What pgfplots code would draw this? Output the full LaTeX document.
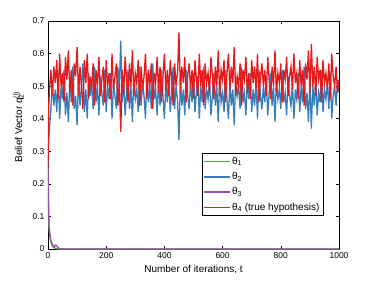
\documentclass[border=0pt]{standalone}
\usepackage{pgfplots}
\pgfplotsset{compat=1.18}
\usepackage{pgfplotstable}
\usepackage{fontspec}
\setmainfont{Liberation Sans}
\definecolor{lineR}{rgb}{0.894,0.102,0.110}
\definecolor{lineB}{rgb}{0.216,0.494,0.722}
\definecolor{lineG}{rgb}{0.302,0.686,0.290}
\definecolor{lineP}{rgb}{0.596,0.306,0.639}

\pgfplotstableread{
t r b
0 0.25 0.25
1 0.33 0.29
2 0.40 0.32
3 0.45 0.34
5 0.49 0.37
10 0.55 0.43
15 0.47 0.51
20 0.56 0.44
25 0.51 0.49
30 0.58 0.42
35 0.46 0.54
40 0.60 0.40
45 0.50 0.50
50 0.54 0.46
55 0.45 0.55
60 0.59 0.41
65 0.52 0.48
70 0.61 0.39
75 0.48 0.52
80 0.55 0.45
85 0.44 0.56
90 0.57 0.43
95 0.53 0.47
100 0.62 0.38
105 0.47 0.53
110 0.56 0.44
115 0.50 0.50
120 0.43 0.57
125 0.58 0.42
130 0.51 0.49
135 0.60 0.40
140 0.46 0.54
145 0.53 0.47
150 0.49 0.51
155 0.57 0.43
160 0.44 0.56
165 0.55 0.45
170 0.50 0.50
175 0.59 0.41
180 0.47 0.53
185 0.52 0.48
190 0.56 0.44
195 0.45 0.55
200 0.58 0.42
205 0.50 0.50
210 0.54 0.46
215 0.46 0.54
220 0.60 0.40
225 0.49 0.51
230 0.53 0.47
235 0.57 0.43
240 0.44 0.56
245 0.51 0.49
250 0.36 0.64
255 0.55 0.45
260 0.48 0.52
265 0.59 0.41
270 0.52 0.48
275 0.45 0.55
280 0.57 0.43
285 0.50 0.50
290 0.61 0.39
295 0.47 0.53
300 0.54 0.46
305 0.51 0.49
310 0.58 0.42
315 0.44 0.56
320 0.56 0.44
325 0.49 0.51
330 0.53 0.47
335 0.60 0.40
340 0.46 0.54
345 0.55 0.45
350 0.50 0.50
355 0.57 0.43
360 0.43 0.57
365 0.54 0.46
370 0.51 0.49
375 0.59 0.41
380 0.48 0.52
385 0.56 0.44
390 0.45 0.55
395 0.53 0.47
400 0.60 0.40
405 0.49 0.51
410 0.55 0.45
415 0.47 0.53
420 0.58 0.42
425 0.52 0.48
430 0.44 0.56
435 0.57 0.43
440 0.50 0.50
445 0.54 0.46
450 0.665 0.335
455 0.48 0.52
460 0.56 0.44
465 0.51 0.49
470 0.59 0.41
475 0.45 0.55
480 0.53 0.47
485 0.57 0.43
490 0.49 0.51
495 0.55 0.45
500 0.46 0.54
505 0.58 0.42
510 0.52 0.48
515 0.47 0.53
520 0.60 0.40
525 0.50 0.50
530 0.55 0.45
535 0.44 0.56
540 0.57 0.43
545 0.51 0.49
550 0.54 0.46
555 0.48 0.52
560 0.59 0.41
565 0.53 0.47
570 0.46 0.54
575 0.56 0.44
580 0.50 0.50
585 0.61 0.39
590 0.47 0.53
595 0.55 0.45
600 0.52 0.48
605 0.58 0.42
610 0.45 0.55
615 0.54 0.46
620 0.60 0.40
625 0.49 0.51
630 0.56 0.44
635 0.51 0.49
640 0.62 0.38
645 0.47 0.53
650 0.53 0.47
655 0.50 0.50
660 0.57 0.43
665 0.44 0.56
670 0.55 0.45
675 0.52 0.48
680 0.59 0.41
685 0.48 0.52
690 0.54 0.46
695 0.46 0.54
700 0.58 0.42
705 0.51 0.49
710 0.56 0.44
715 0.49 0.51
720 0.60 0.40
725 0.45 0.55
730 0.53 0.47
735 0.57 0.43
740 0.50 0.50
745 0.55 0.45
750 0.47 0.53
755 0.59 0.41
760 0.52 0.48
765 0.46 0.54
770 0.56 0.44
775 0.50 0.50
780 0.61 0.39
785 0.48 0.52
790 0.54 0.46
795 0.51 0.49
800 0.57 0.43
805 0.45 0.55
810 0.55 0.45
815 0.52 0.48
820 0.59 0.41
825 0.47 0.53
830 0.53 0.47
835 0.56 0.44
840 0.49 0.51
845 0.60 0.40
850 0.51 0.49
855 0.54 0.46
860 0.46 0.54
865 0.58 0.42
870 0.50 0.50
875 0.55 0.45
880 0.44 0.56
885 0.57 0.43
890 0.52 0.48
895 0.61 0.39
900 0.48 0.52
905 0.63 0.37
910 0.50 0.50
915 0.56 0.44
920 0.47 0.53
925 0.59 0.41
930 0.52 0.48
935 0.55 0.45
940 0.45 0.55
945 0.58 0.42
950 0.51 0.49
955 0.54 0.46
960 0.49 0.51
965 0.57 0.43
970 0.46 0.54
975 0.60 0.40
980 0.53 0.47
985 0.50 0.50
990 0.56 0.44
995 0.48 0.52
1000 0.52 0.48
}\beliefs

\pgfplotstableread{
t g
0 0.25
1 0.17
2 0.11
3 0.07
5 0.05
8 0.03
12 0.015
18 0.005
25 0.002
35 0
1000 0
}\thetaone

\pgfplotstableread{
t p
0 0.25
1 0.20
2 0.14
3 0.09
5 0.06
8 0.035
12 0.02
18 0.01
22 0.006
26 0.012
30 0.010
34 0.004
40 0.001
50 0
1000 0
}\thetathree

\begin{document}
\begin{tikzpicture}
\begin{axis}[
  scale only axis,
  width=291pt, height=228pt,
  at={(0,0)}, anchor=south west,
  xmin=0, xmax=1000, ymin=0, ymax=0.7,
  xtick={0,200,...,1000},
  xticklabels={0,200,400,600,800,1000},
  ytick={0,0.1,...,0.7},
  yticklabels={0,0.1,0.2,0.3,0.4,0.5,0.6,0.7},
  tick align=inside,
  major tick length=3pt,
  tick style={black, line width=0.6pt},
  axis line style={line width=0.8pt},
  tick label style={font=\fontsize{8.5}{10}\selectfont},
  xlabel={Number of iterations, t},
  ylabel={Belief Vector q\rlap{\textsuperscript{(l)}}\textsubscript{2}},
  label style={font=\fontsize{10}{12}\selectfont},
  xlabel style={at={(axis description cs:0.5,-0.088)}, anchor=center},
  ylabel style={at={(axis description cs:-0.1,0.53)}, anchor=center},
  legend style={at={(axis description cs:0.529,0.421)}, anchor=north west,
    font=\fontsize{10}{12}\selectfont,
    row sep=2.5pt, inner sep=2pt},
  legend cell align=left,
  legend image code/.code={\fill[#1, draw=none] (0pt,-0.8pt) rectangle (26pt,0.8pt);},
]
\addplot[color=lineG, line width=1.3pt] table[x=t, y=g] {\thetaone};
\addlegendentry{θ\textsubscript{1}}
\addplot[color=lineB, line width=1.3pt] table[x=t, y=b] {\beliefs};
\addlegendentry{θ\textsubscript{2}}
\addplot[color=lineP, line width=1.3pt] table[x=t, y=p] {\thetathree};
\addlegendentry{θ\textsubscript{3}}
\addplot[color=lineR, line width=1.3pt] table[x=t, y=r] {\beliefs};
\addlegendentry{θ\textsubscript{4} (true hypothesis)}
\end{axis}
\pgfresetboundingbox
\path (-48pt,-32pt) rectangle (326pt,249pt);
\end{tikzpicture}
\end{document}
